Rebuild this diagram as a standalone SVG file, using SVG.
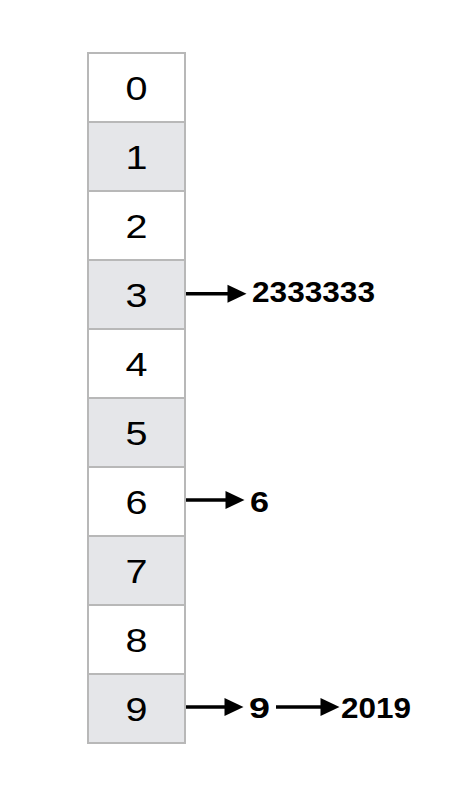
<svg xmlns="http://www.w3.org/2000/svg" width="472" height="786" viewBox="0 0 472 786">
<defs>
<style>
.cw{fill:#ffffff;stroke:#b8b8b8;stroke-width:2}
.cg{fill:#e5e6e9;stroke:#b8b8b8;stroke-width:2}
.lbl{font-family:"Liberation Sans",Arial,sans-serif;font-size:34px;fill:#000;text-anchor:middle}
.val{font-family:"Liberation Sans",Arial,sans-serif;font-size:29.5px;font-weight:bold;fill:#000}
.ln{stroke:#000;stroke-width:3.5;fill:none}
.hd{fill:#000}
</style>
<path id="ah" d="M-19,-9 L0,0 L-19,9 Z"/>
</defs>
<rect x="0" y="0" width="472" height="786" fill="#ffffff"/>
<g id="cell0"><rect class="cw" x="88" y="53" width="97" height="69"/><text class="lbl" x="136.5" y="100" textLength="22" lengthAdjust="spacingAndGlyphs">0</text></g>
<g id="cell1"><rect class="cg" x="88" y="122" width="97" height="69"/><text class="lbl" x="136.5" y="169" textLength="22" lengthAdjust="spacingAndGlyphs">1</text></g>
<g id="cell2"><rect class="cw" x="88" y="191" width="97" height="69"/><text class="lbl" x="136.5" y="238" textLength="22" lengthAdjust="spacingAndGlyphs">2</text></g>
<g id="cell3"><rect class="cg" x="88" y="260" width="97" height="69"/><text class="lbl" x="136.5" y="307" textLength="22" lengthAdjust="spacingAndGlyphs">3</text></g>
<g id="cell4"><rect class="cw" x="88" y="329" width="97" height="69"/><text class="lbl" x="136.5" y="376" textLength="22" lengthAdjust="spacingAndGlyphs">4</text></g>
<g id="cell5"><rect class="cg" x="88" y="398" width="97" height="69"/><text class="lbl" x="136.5" y="445" textLength="22" lengthAdjust="spacingAndGlyphs">5</text></g>
<g id="cell6"><rect class="cw" x="88" y="467" width="97" height="69"/><text class="lbl" x="136.5" y="514" textLength="22" lengthAdjust="spacingAndGlyphs">6</text></g>
<g id="cell7"><rect class="cg" x="88" y="536" width="97" height="69"/><text class="lbl" x="136.5" y="583" textLength="22" lengthAdjust="spacingAndGlyphs">7</text></g>
<g id="cell8"><rect class="cw" x="88" y="605" width="97" height="69"/><text class="lbl" x="136.5" y="652" textLength="22" lengthAdjust="spacingAndGlyphs">8</text></g>
<g id="cell9"><rect class="cg" x="88" y="674" width="97" height="69"/><text class="lbl" x="136.5" y="721" textLength="22" lengthAdjust="spacingAndGlyphs">9</text></g>
<g id="v2333333"><text class="val" x="252" y="301.5" textLength="123" lengthAdjust="spacingAndGlyphs">2333333</text></g>
<g id="v6"><text class="val" x="250" y="511.5" textLength="19" lengthAdjust="spacingAndGlyphs">6</text></g>
<g id="v9"><text class="val" x="249" y="717.5" textLength="21" lengthAdjust="spacingAndGlyphs">9</text></g>
<g id="v2019"><text class="val" x="341" y="717.5" textLength="70" lengthAdjust="spacingAndGlyphs">2019</text></g>
<g id="connectors">
<line class="ln" x1="186" y1="293.8" x2="230" y2="293.8"/>
<use href="#ah" class="hd" x="246.5" y="293.8"/>
<line class="ln" x1="186" y1="500" x2="228" y2="500"/>
<use href="#ah" class="hd" x="244.5" y="500"/>
<line class="ln" x1="186" y1="707" x2="227" y2="707"/>
<use href="#ah" class="hd" x="243.5" y="707"/>
<line class="ln" x1="276" y1="707" x2="323" y2="707"/>
<use href="#ah" class="hd" x="339.5" y="707"/>
</g>
</svg>
